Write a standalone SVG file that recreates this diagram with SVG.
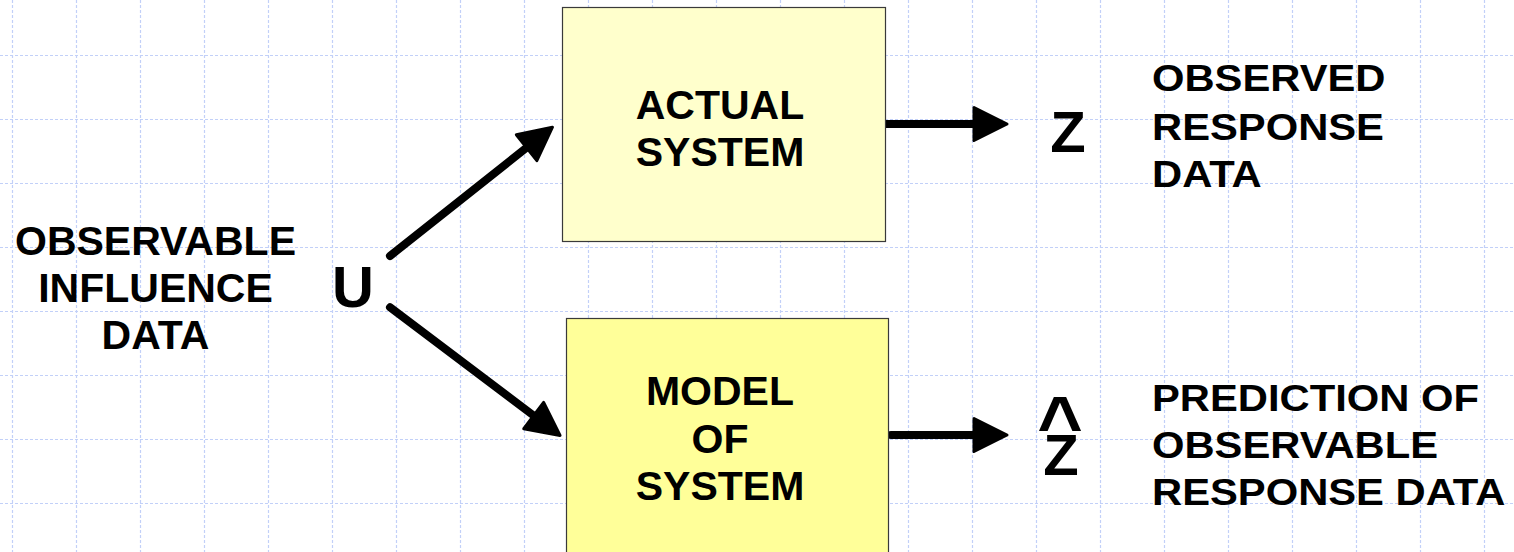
<svg xmlns="http://www.w3.org/2000/svg" width="1514" height="552" viewBox="0 0 1514 552">
<defs>
<style>
.grid{stroke:#c2d0f8;stroke-width:1.2;stroke-dasharray:3 2;fill:none}
.box{stroke:#3a3a3a;stroke-width:1.2}
.t{font-family:"Liberation Sans",Arial,sans-serif;font-weight:bold;fill:#000}
.lbl{font-size:41px;text-anchor:middle}
.var{font-size:58px;text-anchor:middle}
.conn{stroke:#000;stroke-width:8;stroke-linecap:round;fill:none}
</style>
<marker id="ah" markerUnits="userSpaceOnUse" markerWidth="40" markerHeight="40" refX="0" refY="0" viewBox="-2 -20 40 40" orient="auto" overflow="visible">
<path d="M0,-16.5 L33,0 L0,16.5 Z" fill="#000" stroke="#000" stroke-width="3" stroke-linejoin="round"/>
</marker>
</defs>
<rect width="1514" height="552" fill="#fff"/>
<g id="grid">
<path class="grid" d="M12.5,0V552M76.5,0V552M140.5,0V552M204.5,0V552M268.5,0V552M332.5,0V552M396.5,0V552M460.5,0V552M524.5,0V552M588.5,0V552M652.5,0V552M716.5,0V552M780.5,0V552M844.5,0V552M908.5,0V552M972.5,0V552M1036.5,0V552M1100.5,0V552M1164.5,0V552M1228.5,0V552M1292.5,0V552M1356.5,0V552M1420.5,0V552M1484.5,0V552"/>
<path class="grid" d="M0,55.5H1514M0,119.5H1514M0,183.5H1514M0,247.5H1514M0,311.5H1514M0,375.5H1514M0,439.5H1514M0,503.5H1514"/>
</g>
<g id="connectors">
<line class="conn" x1="390" y1="256" x2="526.6" y2="147.7" marker-end="url(#ah)"/>
<line class="conn" x1="390" y1="307.3" x2="533.7" y2="415.6" marker-end="url(#ah)"/>
<line class="conn" x1="886" y1="124" x2="974" y2="124" marker-end="url(#ah)"/>
<line class="conn" x1="891" y1="435" x2="974" y2="435" marker-end="url(#ah)"/>
</g>
<g id="actual-system">
<rect class="box" x="562.5" y="7.5" width="323" height="234" fill="#ffffcc"/>
<text class="t lbl" x="720" y="119">ACTUAL</text>
<text class="t lbl" x="720" y="165.5">SYSTEM</text>
</g>
<g id="model-of-system">
<rect class="box" x="566.5" y="318.5" width="322" height="250" fill="#ffff99"/>
<text class="t lbl" x="720" y="404.5">MODEL</text>
<text class="t lbl" x="720" y="452.5">OF</text>
<text class="t lbl" x="720" y="500">SYSTEM</text>
</g>
<g id="influence-label">
<text class="t lbl" x="155.5" y="255">OBSERVABLE</text>
<text class="t lbl" x="155.5" y="301.5">INFLUENCE</text>
<text class="t lbl" x="155.5" y="349">DATA</text>
</g>
<g id="u">
<text class="t var" x="353" y="307">U</text>
</g>
<g id="z">
<text class="t var" x="1068" y="151.5">Z</text>
</g>
<g id="z-hat">
<text class="t var" x="1061" y="475">Z</text>
<text class="t" x="1060" y="451" font-size="78" text-anchor="middle">^</text>
</g>
<g id="observed-label" transform="translate(1152,0) scale(1.16,1)">
<text class="t" x="0" y="91" font-size="36">OBSERVED</text>
<text class="t" x="0" y="140.5" font-size="36">RESPONSE</text>
<text class="t" x="0" y="187.5" font-size="36">DATA</text>
</g>
<g id="prediction-label" transform="translate(1152,0) scale(1.16,1)">
<text class="t" x="0" y="411.5" font-size="36">PREDICTION OF</text>
<text class="t" x="0" y="458.5" font-size="36">OBSERVABLE</text>
<text class="t" x="0" y="505" font-size="36">RESPONSE DATA</text>
</g>
</svg>
